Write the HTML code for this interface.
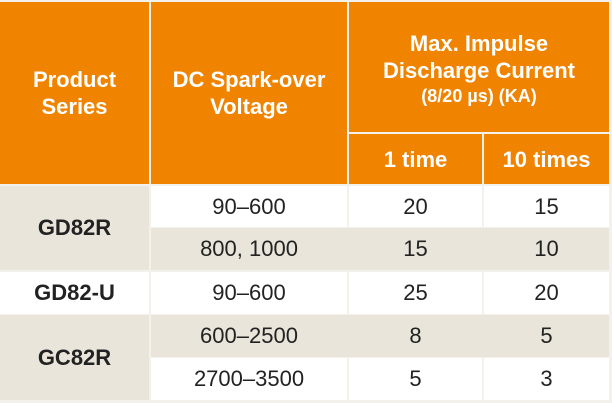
<!DOCTYPE html>
<html><head><meta charset="utf-8"><style>
html,body{margin:0;padding:0;width:612px;height:403px;overflow:hidden;background:#f3f1ec;}
.c{position:absolute;box-sizing:border-box;display:flex;align-items:center;justify-content:center;text-align:center;font-family:"Liberation Sans",sans-serif;color:#222;}
.o{background:#f08300;color:#fff;font-weight:bold;font-size:22px;line-height:27px;}
.b{background:#e9e5da;}
.w{background:#fff;}
.n{font-size:22px;}
.s{font-weight:bold;font-size:22px;}
</style></head><body>
<div class="c o" style="left:0;top:2px;width:149px;height:182px;">Product<br>Series</div>
<div class="c o" style="left:151px;top:2px;width:196px;height:182px;">DC Spark-over<br>Voltage</div>
<div class="c o" style="left:349px;top:2px;width:260px;height:130px;flex-direction:column;padding-top:4px;"><div>Max. Impulse<br>Discharge Current</div><div style="font-size:18px;line-height:24px;">(8/20 µs) (KA)</div></div>
<div class="c o" style="left:349px;top:134px;width:133px;height:50px;">1 time</div>
<div class="c o" style="left:484px;top:134px;width:125px;height:50px;">10 times</div>

<div class="c b s" style="left:0;top:186px;width:149px;height:84px;">GD82R</div>
<div class="c w n" style="left:151px;top:186px;width:196px;height:41px;">90–600</div>
<div class="c w n" style="left:349px;top:186px;width:133px;height:41px;">20</div>
<div class="c w n" style="left:484px;top:186px;width:125px;height:41px;">15</div>
<div class="c b n" style="left:151px;top:228px;width:458px;height:42px;"></div>
<div class="c b n" style="left:151px;top:228px;width:196px;height:42px;">800, 1000</div>
<div class="c b n" style="left:349px;top:228px;width:133px;height:42px;">15</div>
<div class="c b n" style="left:484px;top:228px;width:125px;height:42px;">10</div>

<div class="c w s" style="left:0;top:272px;width:149px;height:42px;">GD82-U</div>
<div class="c w n" style="left:151px;top:272px;width:196px;height:42px;">90–600</div>
<div class="c w n" style="left:349px;top:272px;width:133px;height:42px;">25</div>
<div class="c w n" style="left:484px;top:272px;width:125px;height:42px;">20</div>

<div class="c b s" style="left:0;top:315px;width:149px;height:85px;">GC82R</div>
<div class="c b n" style="left:151px;top:315px;width:458px;height:42px;"></div>
<div class="c b n" style="left:151px;top:315px;width:196px;height:42px;">600–2500</div>
<div class="c b n" style="left:349px;top:315px;width:133px;height:42px;">8</div>
<div class="c b n" style="left:484px;top:315px;width:125px;height:42px;">5</div>
<div class="c w n" style="left:151px;top:358px;width:196px;height:42px;">2700–3500</div>
<div class="c w n" style="left:349px;top:358px;width:133px;height:42px;">5</div>
<div class="c w n" style="left:484px;top:358px;width:125px;height:42px;">3</div>
</body></html>
